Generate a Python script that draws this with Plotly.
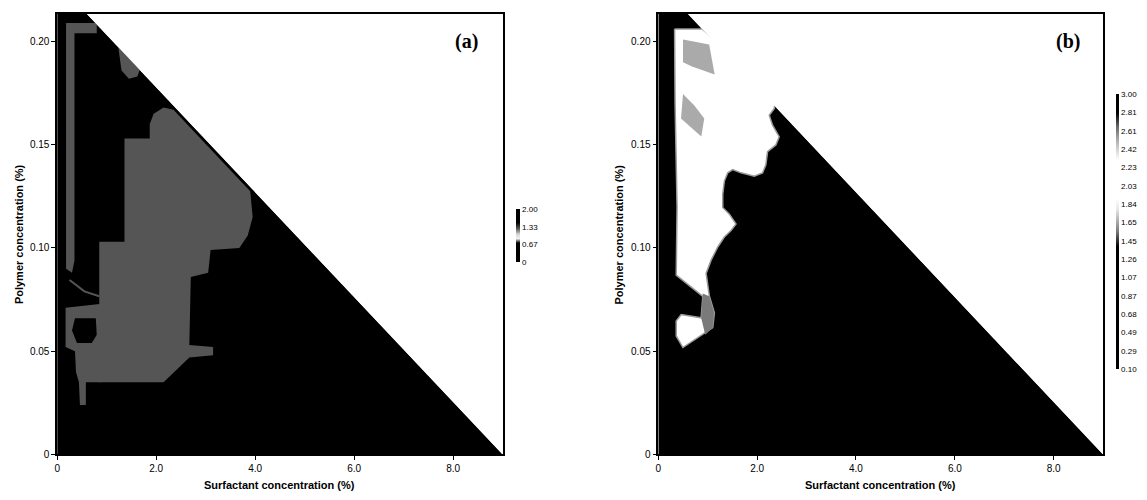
import plotly.graph_objects as go

# ---- axes ---------------------------------------------------------------
x_range = [0.0, 9.0]
y_range = [0.0, 0.2134]
x_ticks = [0, 2, 4, 6, 8]
x_ticktext = ["0", "2.0", "4.0", "6.0", "8.0"]
y_ticks = [0, 0.05, 0.10, 0.15, 0.20]
y_ticktext = ["0", "0.05", "0.10", "0.15", "0.20"]

# composition limit: the mixtures lie below this line
limit_x = [0.0, 9.0]
limit_y = [0.2286, 0.0]

# ---- panel (a): three-level map ----------------------------------------
a_levels = [0, 0.67, 1.33, 2.00]
a_level_text = ["0", "0.67", "1.33", "2.00"]
a_background_value = 0.3
a_region_value = 1.26

# narrow strip along the left side and the band at the top
a_strip_x = [0.18, 0.80, 0.80, 0.35, 0.35, 0.30, 0.18]
a_strip_y = [0.209, 0.209, 0.204, 0.204, 0.094, 0.088, 0.090]
# main region
a_main_x = [1.36, 1.87, 1.87, 1.95, 2.15, 2.35, 3.00, 3.60, 3.90, 3.95, 3.85,
            3.68, 3.10, 3.05, 2.70, 2.67, 3.15, 3.15, 2.67, 2.15, 0.85, 0.85,
            1.36]
a_main_y = [0.153, 0.153, 0.160, 0.165, 0.168, 0.167, 0.1504, 0.1352, 0.1275,
            0.115, 0.106, 0.100, 0.099, 0.088, 0.086, 0.053, 0.052, 0.048,
            0.047, 0.035, 0.035, 0.103, 0.103]
# lower-left lobe
a_low_x = [0.17, 0.90, 0.90, 0.58, 0.58, 0.46, 0.44, 0.38, 0.36, 0.17]
a_low_y = [0.071, 0.073, 0.035, 0.035, 0.024, 0.024, 0.035, 0.040, 0.050, 0.052]
# small patch next to the limit line
a_edge_x = [1.22, 1.30, 1.45, 1.62, 1.75, 1.30]
a_edge_y = [0.200, 0.186, 0.182, 0.183, 0.192, 0.205]
# low-value pocket inside the lower-left lobe
a_hole_x = [0.30, 0.36, 0.78, 0.80, 0.70, 0.40]
a_hole_y = [0.060, 0.066, 0.066, 0.058, 0.054, 0.054]
# thin link between the strip and the main region
a_link_x = [0.25, 0.55, 0.85]
a_link_y = [0.0845, 0.079, 0.0766]

# ---- panel (b): fifteen-level map --------------------------------------
b_levels = [0.10, 0.29, 0.49, 0.68, 0.87, 1.07, 1.26, 1.45, 1.65, 1.84,
            2.03, 2.23, 2.42, 2.61, 2.81, 3.00]
b_level_text = ["0.10", "0.29", "0.49", "0.68", "0.87", "1.07", "1.26", "1.45",
                "1.65", "1.84", "2.03", "2.23", "2.42", "2.61", "2.81", "3.00"]
b_background_value = 0.5
b_main_value = 2.0
b_patch_value = 2.52
b_low_value = 1.55

b_main_x = [0.33, 0.89, 2.40, 2.345, 2.245, 2.312, 2.446, 2.379, 2.211, 2.177,
            2.110, 1.942, 1.673, 1.505, 1.405, 1.337, 1.304, 1.304, 1.438,
            1.573, 1.472, 1.337, 1.203, 1.069, 0.968, 1.034, 1.135, 1.102,
            0.498, 0.363, 0.363, 0.464, 0.867, 0.901, 0.363, 0.38, 0.34]
b_main_y = [0.206, 0.206, 0.175, 0.1675, 0.1643, 0.1595, 0.1539, 0.1499,
            0.1467, 0.1403, 0.1364, 0.1348, 0.1364, 0.1380, 0.1364, 0.1324,
            0.1260, 0.1196, 0.1164, 0.1116, 0.1085, 0.1053, 0.1005, 0.0941,
            0.0877, 0.0766, 0.0686, 0.0614, 0.0518, 0.0574, 0.0646, 0.0678,
            0.0662, 0.0766, 0.0869, 0.120, 0.170]
b_patch1_x = [0.50, 1.03, 1.14, 0.67, 0.50]
b_patch1_y = [0.201, 0.1986, 0.184, 0.188, 0.190]
b_patch2_x = [0.50, 0.73, 0.93, 0.87, 0.46]
b_patch2_y = [0.1746, 0.169, 0.1627, 0.154, 0.1627]
b_low_x = [0.90, 1.03, 1.13, 1.10, 0.95, 0.87]
b_low_y = [0.078, 0.0766, 0.0686, 0.0614, 0.058, 0.066]

# ---- grey scales --------------------------------------------------------
scale_a = [[0.0, "#000000"], [0.36, "#000000"], [0.44, "#f0f0f0"],
           [0.52, "#d8d8d8"], [0.63, "#555555"], [0.74, "#000000"],
           [1.0, "#000000"]]
scale_b = [[0.0, "#000000"], [0.445, "#000000"], [0.50, "#7a7a7a"],
           [0.58, "#e6e6e6"], [0.62, "#ffffff"], [0.76, "#ffffff"],
           [0.83, "#b0b0b0"], [0.88, "#6a6a6a"], [0.93, "#000000"],
           [1.0, "#000000"]]


def shade(scale, vmin, vmax, v):
    t = min(max((v - vmin) / (vmax - vmin), 0.0), 1.0)
    for (t0, c0), (t1, c1) in zip(scale[:-1], scale[1:]):
        if t0 <= t <= t1:
            f = 0.0 if t1 == t0 else (t - t0) / (t1 - t0)
            a = [int(c0[i:i + 2], 16) for i in (1, 3, 5)]
            b = [int(c1[i:i + 2], 16) for i in (1, 3, 5)]
            g = [round(a[k] + f * (b[k] - a[k])) for k in range(3)]
            return "rgb(%d,%d,%d)" % tuple(g)
    return scale[-1][1]


fig = go.Figure()


def region(xs, ys, color, xa, ya, outline=None, width=0):
    fig.add_trace(go.Scatter(
        x=xs + xs[:1], y=ys + ys[:1], mode="lines", fill="toself",
        fillcolor=color, line=dict(color=outline or color, width=width),
        xaxis=xa, yaxis=ya, hoverinfo="skip", showlegend=False))


domain_x = [limit_x[0], limit_x[1], limit_x[0]]
domain_y = [0.0, limit_y[1], limit_y[0]]
mask_x = [limit_x[0], limit_x[1], x_range[1] + 1, x_range[1] + 1, limit_x[0]]
mask_y = [limit_y[0], limit_y[1], y_range[0], y_range[1] + 0.05, y_range[1] + 0.05]

# panel (a)
ca0 = shade(scale_a, a_levels[0], a_levels[-1], a_background_value)
ca1 = shade(scale_a, a_levels[0], a_levels[-1], a_region_value)
region(domain_x, domain_y, ca0, "x", "y")
region(a_strip_x, a_strip_y, ca1, "x", "y")
region(a_main_x, a_main_y, ca1, "x", "y")
region(a_low_x, a_low_y, ca1, "x", "y")
region(a_edge_x, a_edge_y, ca1, "x", "y")
region(a_hole_x, a_hole_y, ca0, "x", "y")
fig.add_trace(go.Scatter(x=a_link_x, y=a_link_y, mode="lines",
                         line=dict(color=ca1, width=2), xaxis="x", yaxis="y",
                         hoverinfo="skip", showlegend=False))
region(mask_x, mask_y, "#ffffff", "x", "y")

# panel (b)
cb0 = shade(scale_b, b_levels[0], b_levels[-1], b_background_value)
cb1 = shade(scale_b, b_levels[0], b_levels[-1], b_main_value)
cb2 = shade(scale_b, b_levels[0], b_levels[-1], b_patch_value)
cb3 = shade(scale_b, b_levels[0], b_levels[-1], b_low_value)
region(domain_x, domain_y, cb0, "x2", "y2")
region(b_main_x, b_main_y, cb1, "x2", "y2", outline="#9a9a9a", width=1.5)
region(b_patch1_x, b_patch1_y, cb2, "x2", "y2")
region(b_patch2_x, b_patch2_y, cb2, "x2", "y2")
region(b_low_x, b_low_y, cb3, "x2", "y2")
region(mask_x, mask_y, "#ffffff", "x2", "y2")

# colour bars
small_font = dict(family="Liberation Sans Narrow, Liberation Sans, Arial", size=8, color="black")
fig.add_trace(go.Scatter(
    x=[None], y=[None], mode="markers", xaxis="x", yaxis="y", showlegend=False,
    marker=dict(color=[a_levels[0]], cmin=a_levels[0], cmax=a_levels[-1],
                colorscale=scale_a, showscale=True,
                colorbar=dict(x=514 / 1147, xanchor="left", xpad=0, ypad=0,
                              y=(500 - 238.5) / 500, yanchor="middle",
                              len=53, lenmode="pixels", thickness=4,
                              outlinewidth=0, tickvals=a_levels,
                              ticktext=a_level_text, ticks="",
                              tickfont=small_font))))
fig.add_trace(go.Scatter(
    x=[None], y=[None], mode="markers", xaxis="x2", yaxis="y2", showlegend=False,
    marker=dict(color=[b_levels[0]], cmin=b_levels[0], cmax=b_levels[-1],
                colorscale=scale_b, showscale=True,
                colorbar=dict(x=1116 / 1147, xanchor="left", xpad=0, ypad=0,
                              y=(500 - 234.2) / 500, yanchor="middle",
                              len=275, lenmode="pixels", thickness=3,
                              outlinewidth=0, tickvals=b_levels,
                              ticktext=b_level_text, ticks="",
                              tickfont=small_font))))

tick_font = dict(family="Liberation Sans, Arial", size=10, color="black")
common_x = dict(range=x_range, tickvals=x_ticks, ticktext=x_ticktext,
                ticks="outside", ticklen=4, tickcolor="black", showline=True,
                linecolor="black", linewidth=1.5, mirror=True, showgrid=False,
                zeroline=False, tickfont=tick_font)
common_y = dict(range=y_range, tickvals=y_ticks, ticktext=y_ticktext,
                ticks="outside", ticklen=4, tickcolor="black", showline=True,
                linecolor="black", linewidth=1.5, mirror=True, showgrid=False,
                zeroline=False, tickfont=tick_font)

title_font = dict(family="Liberation Sans, Arial", size=11, color="black")
label_font = dict(family="Liberation Serif, Times New Roman", size=20, color="black")

ann = []
for cx, ly, tag, tx in [(277.5, 16, "(a)", 465), (880, 618, "(b)", 1068)]:
    ann.append(dict(x=cx / 1147, y=(500 - 491) / 500, xref="paper", yref="paper",
                    text="<b>Surfactant concentration (%)</b>", showarrow=False,
                    font=title_font, xanchor="center", yanchor="middle"))
    ann.append(dict(x=ly / 1147, y=(500 - 237) / 500, xref="paper", yref="paper",
                    text="<b>Polymer concentration (%)</b>", showarrow=False,
                    textangle=-90, font=title_font, xanchor="center",
                    yanchor="middle"))
    ann.append(dict(x=tx / 1147, y=(500 - 42) / 500, xref="paper", yref="paper",
                    text="<b>%s</b>" % tag, showarrow=False, font=label_font,
                    xanchor="center", yanchor="middle"))

fig.update_layout(
    width=1147, height=500, margin=dict(l=0, r=0, t=0, b=0),
    paper_bgcolor="white", plot_bgcolor="white", showlegend=False,
    xaxis=dict(domain=[54.3 / 1147, 501 / 1147], anchor="y", **common_x),
    yaxis=dict(domain=[40 / 500, 486 / 500], anchor="x", **common_y),
    xaxis2=dict(domain=[657 / 1147, 1103 / 1147], anchor="y2", **common_x),
    yaxis2=dict(domain=[40 / 500, 486 / 500], anchor="x2", **common_y),
    annotations=ann,
)

fig.write_html("out.html")
